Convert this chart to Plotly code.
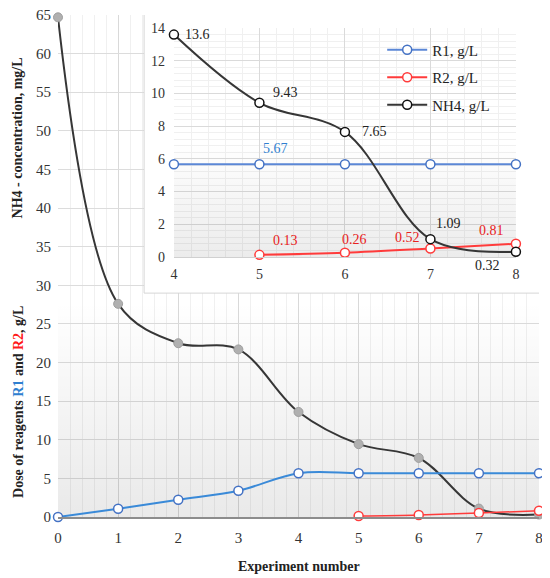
import plotly.graph_objects as go

# main chart data (experiments 0..8)
experiments = [0, 1, 2, 3, 4, 5, 6, 7, 8]
nh4_mg = [64.7, 27.6, 22.5, 21.7, 13.6, 9.43, 7.65, 1.09, 0.32]
r1_dose = [0.0, 1.07, 2.24, 3.4, 5.67, 5.67, 5.67, 5.67, 5.67]
r2_exp = [5, 6, 7, 8]
r2_dose = [0.13, 0.26, 0.52, 0.81]

# inset (experiments 4..8)
inset_exp = [4, 5, 6, 7, 8]
inset_r1 = [5.67, 5.67, 5.67, 5.67, 5.67]
inset_nh4 = [13.6, 9.43, 7.65, 1.09, 0.32]

# label offsets (px) for the inset values
nh4_shift = [(24, 0), (26, 10), (30, 0), (18, 16), (-28, -14)]
r2_shift = [(26, 14), (10, 13), (-23, 11), (-24, 13)]

X_MAIN = [0, 8]
Y_MAIN = [0, 65]
X_INSET = [4, 8]
Y_INSET = [0, 14]

FONT = "Liberation Serif"
BLUE_MAIN = "#3a8ad8"
BLUE_INSET = "#5b87d6"
MARK_BLUE = "#4472c4"
RED = "#ff3b3b"
DARK = "#363636"
TICKS = dict(family=FONT, size=15, color="#333333")

fig = go.Figure()

# soft gray gradient at the bottom of both plot areas
fig.add_trace(go.Scatter(
    x=[X_MAIN[0], X_MAIN[1], X_MAIN[1], X_MAIN[0], X_MAIN[0]],
    y=[Y_MAIN[0], Y_MAIN[0], 28, 28, Y_MAIN[0]], mode="none", fill="toself",
    fillgradient=dict(type="vertical", colorscale=[
        [0, "rgba(0,0,0,0.085)"], [1, "rgba(0,0,0,0)"]]),
    hoverinfo="skip", showlegend=False, xaxis="x", yaxis="y"))

fig.add_trace(go.Scatter(
    x=[X_INSET[0], X_INSET[1], X_INSET[1], X_INSET[0], X_INSET[0]],
    y=[Y_INSET[0], Y_INSET[0], 7, 7, Y_INSET[0]], mode="none", fill="toself",
    fillgradient=dict(type="vertical", colorscale=[
        [0, "rgba(0,0,0,0.075)"], [1, "rgba(0,0,0,0)"]]),
    hoverinfo="skip", showlegend=False, xaxis="x2", yaxis="y2"))

# main plot
fig.add_trace(go.Scatter(
    x=experiments, y=nh4_mg, mode="lines+markers",
    line=dict(color=DARK, width=2, shape="spline", smoothing=1),
    marker=dict(size=9, color="#b0b0b0", line=dict(color="#9e9e9e", width=1)),
    showlegend=False, cliponaxis=False, xaxis="x", yaxis="y"))

fig.add_trace(go.Scatter(
    x=experiments, y=r1_dose, mode="lines+markers",
    line=dict(color=BLUE_MAIN, width=2, shape="spline", smoothing=1),
    marker=dict(size=9, color="white", line=dict(color=MARK_BLUE, width=1.5)),
    showlegend=False, cliponaxis=False, xaxis="x", yaxis="y"))

fig.add_trace(go.Scatter(
    x=r2_exp, y=r2_dose, mode="lines+markers",
    line=dict(color=RED, width=1.5, shape="spline", smoothing=1),
    marker=dict(size=9, color="white", line=dict(color=RED, width=1.5)),
    showlegend=False, cliponaxis=False, xaxis="x", yaxis="y"))

# inset
fig.add_trace(go.Scatter(
    x=inset_exp, y=inset_r1, mode="lines+markers", name="R1, g/L", legendgroup="r1",
    line=dict(color=BLUE_INSET, width=2),
    marker=dict(size=9, color="white", line=dict(color=MARK_BLUE, width=1.5)),
    cliponaxis=False, xaxis="x2", yaxis="y2"))

fig.add_trace(go.Scatter(
    x=r2_exp, y=r2_dose, mode="lines+markers", name="R2, g/L", legendgroup="r2",
    line=dict(color=RED, width=2, shape="spline", smoothing=1),
    marker=dict(size=9, color="white", line=dict(color=RED, width=1.5)),
    cliponaxis=False, xaxis="x2", yaxis="y2"))

fig.add_trace(go.Scatter(
    x=inset_exp, y=inset_nh4, mode="lines+markers", name="NH4, g/L", legendgroup="nh4",
    line=dict(color=DARK, width=2, shape="spline", smoothing=1),
    marker=dict(size=9, color="white", line=dict(color="#111111", width=1.5)),
    cliponaxis=False, xaxis="x2", yaxis="y2"))

annotations = []
for x, v, (dx, dy) in zip(inset_exp, inset_nh4, nh4_shift):
    annotations.append(dict(x=x, y=v, xref="x2", yref="y2", text=f"{v:g}",
                            showarrow=False, xshift=dx, yshift=dy,
                            font=dict(family=FONT, size=14, color="#222222")))
annotations.append(dict(x=inset_exp[1], y=inset_r1[1], xref="x2", yref="y2",
                        text=f"{inset_r1[1]:g}", showarrow=False, xshift=16, yshift=16,
                        font=dict(family=FONT, size=14, color="#2f7fd0")))
for x, v, (dx, dy) in zip(r2_exp, r2_dose, r2_shift):
    annotations.append(dict(x=x, y=v, xref="x2", yref="y2", text=f"{v:g}",
                            showarrow=False, xshift=dx, yshift=dy,
                            font=dict(family=FONT, size=14, color="#e82020")))

# y axis titles (two stacked pieces)
annotations.append(dict(
    x=-0.102, y=0.23, xref="paper", yref="paper", textangle=-90, showarrow=False,
    xanchor="left", yanchor="middle",
    text="<b>Dose of reagents <span style='color:#2f7fd0'>R1</span> and "
         "<span style='color:#ff1a1a'>R2</span>, g/L</b>",
    font=dict(family=FONT, size=14, color="#222222")))
annotations.append(dict(
    x=-0.102, y=0.755, xref="paper", yref="paper", textangle=-90, showarrow=False,
    xanchor="left", yanchor="middle",
    text="<b>NH4 - concentration, mg/L</b>",
    font=dict(family=FONT, size=14, color="#222222")))
annotations.append(dict(
    x=0.5, y=-0.098, xref="paper", yref="paper", showarrow=False,
    xanchor="center", yanchor="middle", text="<b>Experiment number</b>",
    font=dict(family=FONT, size=14, color="#222222")))

# white inset frame, drawn over the main grid but under the inset
box_x = [X_MAIN[0] + 0.179 * (X_MAIN[1] - X_MAIN[0]), X_MAIN[0] + 1.003 * (X_MAIN[1] - X_MAIN[0])]
box_y = [Y_MAIN[0] + 0.446 * (Y_MAIN[1] - Y_MAIN[0]), Y_MAIN[0] + 1.006 * (Y_MAIN[1] - Y_MAIN[0])]

# the page adds an 8px body margin, so the figure is drawn 8px smaller
fig.update_layout(
    width=542, height=570,
    margin=dict(l=50, r=11, t=7, b=61),
    paper_bgcolor="white", plot_bgcolor="white",
    font=dict(family=FONT, size=15, color="#333333"),
    annotations=annotations,
    shapes=[dict(type="rect", xref="x", yref="y", layer="between",
                 x0=box_x[0], x1=box_x[1], y0=box_y[0], y1=box_y[1],
                 fillcolor="white", line=dict(color="#d6d6d6", width=1))],
    legend=dict(x=0.674, y=0.963, xanchor="left", yanchor="top",
                bgcolor="rgba(0,0,0,0)", font=dict(family=FONT, size=15, color="#222222"),
                tracegroupgap=5, itemwidth=40),
    xaxis=dict(range=X_MAIN, dtick=1, showgrid=True, gridcolor="#d9d9d9",
               minor=dict(dtick=0.2, showgrid=True, gridcolor="#f0f0f0"),
               zeroline=False, showline=True, linecolor="#8c8c8c", linewidth=2,
               ticks="", ticklabelstandoff=6, tickfont=TICKS, automargin=False,
               ticklabeloverflow="allow"),
    yaxis=dict(range=Y_MAIN, dtick=5, showgrid=True, gridcolor="#dcdcdc",
               zeroline=False, showline=False, ticks="", ticklabelstandoff=6,
               tickfont=TICKS, automargin=False, ticklabeloverflow="allow"),
    xaxis2=dict(domain=[0.241, 0.952], anchor="y2", range=X_INSET, dtick=1,
                showgrid=True, gridcolor="#dadada",
                minor=dict(dtick=0.2, showgrid=True, gridcolor="#f0f0f0"),
                zeroline=False, showline=True, linecolor="#d0d0d0", ticks="",
                ticklabelstandoff=4, tickfont=dict(family=FONT, size=14, color="#333333"),
                automargin=False),
    yaxis2=dict(domain=[0.518, 0.974], anchor="x2", range=Y_INSET, dtick=2,
                showgrid=True, gridcolor="#dadada",
                minor=dict(dtick=0.4, showgrid=True, gridcolor="#f0f0f0"),
                zeroline=False, showline=False, ticks="", ticklabelstandoff=8,
                tickfont=dict(family=FONT, size=14, color="#333333"), automargin=False),
)

fig.write_html("out.html")
